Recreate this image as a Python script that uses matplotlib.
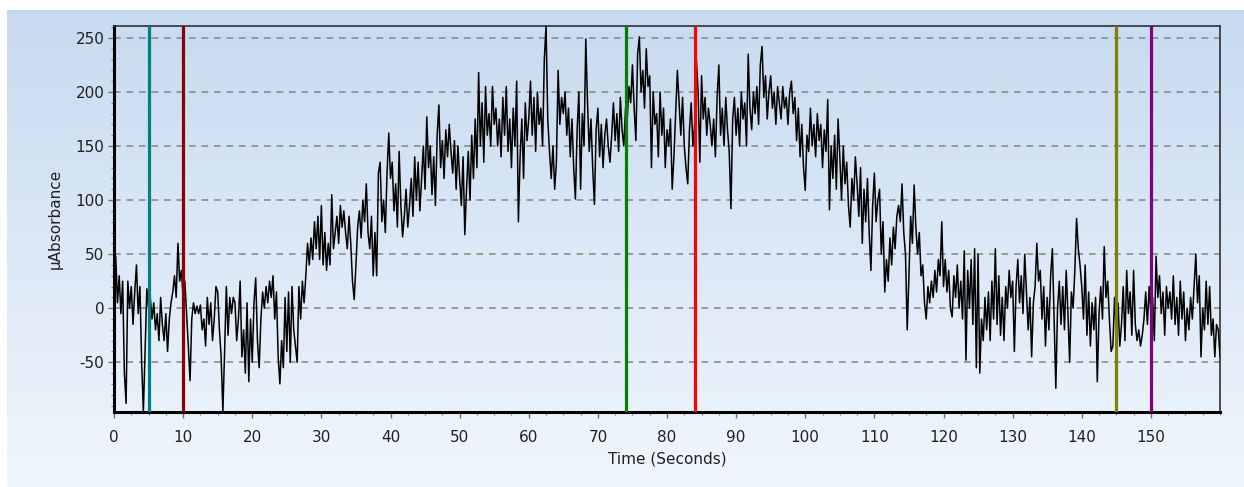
import numpy as np
import matplotlib
matplotlib.use("Agg")
import matplotlib.pyplot as plt
from matplotlib.ticker import MultipleLocator

plt.rcParams["axes.unicode_minus"] = False

# Sampling: one reading every 0.25 s from 0 to 160 s
t_start, t_end, t_step = 0.0, 160.0, 0.25

absorbance = [
    20, 48, 5, 30, -5, 25, -60, -88, 25, 0, 20, -15, 15, 40, -5, 20, -50, -96, -40, 18,
    0, 10, -10, 5, -20, -5, -30, 10, -15, -30, -5, -40, -10, 5, 15, 30, 10, 60, 25, 35,
    10, 25, -5, -35, -67, -10, 5, -5, 2, -5, 3, -20, -10, -35, 10, -15, 5, -30, -10, 20,
    15, -20, -45, -96, -40, 20, -25, 10, -5, 10, 5, -30, -10, 25, -45, -20, -60, 5, -68, -10,
    -50, 5, 28, -30, -55, -10, 15, 0, 20, 5, 25, 10, 30, -10, 15, -45, -70, -30, -55, 10,
    -40, 15, -50, 20, -20, -35, -50, 20, -10, 25, 5, 30, 60, 40, 65, 45, 80, 55, 85, 45,
    95, 40, 70, 35, 60, 40, 105, 55, 70, 85, 60, 95, 75, 90, 70, 55, 85, 60, 25, 8,
    40, 75, 90, 65, 100, 80, 115, 70, 55, 85, 30, 70, 30, 125, 135, 80, 100, 70, 125, 162,
    120, 135, 90, 115, 75, 145, 95, 66, 85, 110, 75, 95, 120, 85, 140, 100, 135, 90, 120, 150,
    110, 177, 130, 150, 105, 140, 95, 160, 188, 130, 155, 120, 165, 140, 170, 145, 125, 155, 110, 150,
    120, 95, 140, 68, 110, 145, 100, 160, 120, 175, 130, 218, 150, 190, 135, 205, 160, 180, 150, 205,
    170, 185, 150, 175, 140, 195, 160, 205, 145, 175, 130, 185, 150, 210, 80, 140, 175, 120, 190, 155,
    175, 210, 160, 195, 145, 200, 170, 185, 150, 230, 261, 175, 145, 120, 150, 110, 135, 220, 170, 195,
    180, 200, 160, 185, 140, 175, 130, 101, 165, 200, 110, 180, 150, 249, 190, 145, 175, 130, 96, 165,
    185, 140, 170, 130, 160, 175, 150, 135, 160, 190, 155, 180, 145, 195, 165, 150, 185, 175, 205, 190,
    225, 185, 155, 235, 251, 200, 220, 185, 240, 205, 215, 130, 200, 170, 180, 140, 200, 160, 185, 130,
    165, 150, 175, 110, 140, 180, 220, 190, 160, 195, 150, 130, 115, 165, 190, 150, 170, 230, 200, 135,
    215, 175, 195, 160, 185, 170, 150, 175, 140, 195, 225, 160, 185, 150, 195, 165, 145, 92, 175, 195,
    160, 185, 150, 200, 175, 190, 150, 235, 185, 165, 200, 180, 205, 170, 225, 242, 195, 215, 175, 200,
    215, 185, 200, 170, 205, 190, 175, 205, 185, 195, 170, 200, 210, 180, 195, 155, 185, 140, 170, 130,
    109, 160, 145, 185, 150, 170, 140, 180, 155, 170, 130, 165, 145, 193, 91, 150, 120, 160, 110, 175,
    140, 100, 150, 115, 135, 95, 75, 120, 100, 140, 115, 85, 130, 60, 110, 80, 120, 70, 35, 95,
    125, 80, 100, 110, 50, 80, 15, 45, 25, 65, 40, 75, 55, 85, 95, 80, 115, 70, 50, -20,
    30, 85, 60, 114, 75, 50, 70, 30, 40, 5, -10, 20, 5, 25, 10, 35, 15, 45, 30, 80,
    20, 45, 15, 35, 0, -8, 30, 10, 40, 0, 25, -10, 53, -48, 35, 0, 45, -15, 55, -55,
    50, -60, -10, -30, 10, -20, 15, -30, 25, -10, 55, -15, 30, -25, 10, -30, 20, 0, 35, 10,
    25, -40, 20, 45, 5, 30, -5, 50, 15, -20, 10, -45, 5, 20, 60, 25, 35, -10, 20, -35,
    10, -20, 30, 55, -10, -74, 0, 25, -15, 20, -20, 35, -5, -50, 15, 0, 35, 83, 55, 40,
    20, -10, 40, -25, 15, -35, 5, -20, 10, -68, -5, 20, -10, 57, 10, 25, -10, -40, -35, 10,
    -20, 5, -35, -15, 20, -30, 35, -5, 15, -25, 35, -15, -30, -20, -35, -25, -10, 15, -15, 20,
    -5, 10, -30, 48, 10, 30, -5, 15, -25, 20, 0, 15, -10, 30, -15, 10, -25, 25, -10, 15,
    -30, 0, -20, 10, -10, 20, 50, 5, 30, -45, 0, -20, 25, -15, 20, -25, -10, -45, -15, -20,
    -45,
]

marker_times = [5, 10, 74, 84, 145, 150]
marker_colors = ["#008080", "#8b0000", "#008000", "#ff0000", "#808000", "#800080"]

x_ticks = list(range(0, 160, 10))
y_ticks = [-50, 0, 50, 100, 150, 200, 250]

time = np.arange(len(absorbance)) * t_step + t_start

W, H = 1244, 487
fig = plt.figure(figsize=(W / 100, H / 100), dpi=100)
fig.patch.set_facecolor("white")

# gradient background panel
bg = fig.add_axes([7 / W, 0, 1 - 7 / W, 1 - 10 / H], zorder=0)
top = np.array([0.78, 0.855, 0.94])
bot = np.array([0.94, 0.965, 0.99])
g = np.linspace(0, 1, 256)[:, None]
img = top[None, None, :] * (1 - g[..., None]) + bot[None, None, :] * g[..., None]
img = np.repeat(img, 2, axis=1)
bg.imshow(img, aspect="auto", extent=[0, 1, 0, 1], origin="upper")
bg.set_axis_off()

ax = fig.add_axes([114 / W, 1 - 412 / H, (1220 - 114) / W, (412 - 26) / H], zorder=1)
ax.patch.set_alpha(0)

ax.plot(time, absorbance, color="black", lw=1.1, zorder=3)
for tm, c in zip(marker_times, marker_colors):
    ax.axvline(tm, color=c, lw=2.3, zorder=4)

ax.set_xlim(0, 160)
ax.set_ylim(-96, 261)
ax.set_xticks(x_ticks)
ax.set_yticks(y_ticks)
ax.xaxis.set_minor_locator(MultipleLocator(2.5))
ax.yaxis.set_minor_locator(MultipleLocator(10))
ax.yaxis.grid(True, which="major", color="#8c8c8c", ls=(0, (4, 3.5)), lw=1.2, zorder=1)
ax.set_axisbelow(True)

ax.tick_params(axis="both", which="major", direction="out", length=4, width=1,
               color="#707070", labelsize=11, labelcolor="#202020")
ax.tick_params(axis="x", which="major", pad=9)
ax.tick_params(axis="y", which="major", pad=3)
ax.tick_params(axis="both", which="minor", direction="out", length=2.5, width=0.8,
               color="#808080")

for side in ["left", "bottom"]:
    ax.spines[side].set_linewidth(2.2)
    ax.spines[side].set_color("black")
for side in ["top", "right"]:
    ax.spines[side].set_linewidth(1.2)
    ax.spines[side].set_color("#303030")

ax.set_xlabel("Time (Seconds)", fontsize=11, color="#202020", labelpad=5)
ax.set_ylabel("µAbsorbance", fontsize=11, color="#202020", labelpad=9)

fig.savefig("out.png", dpi=100)
